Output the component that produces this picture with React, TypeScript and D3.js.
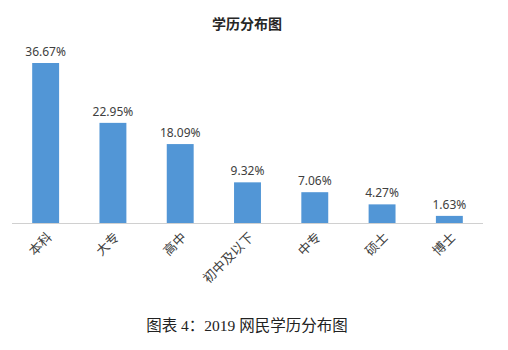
import React from "react";
import * as d3 from "d3";

const categories = ["本科", "大专", "高中", "初中及以下", "中专", "硕士", "博士"];
const values = [36.67, 22.95, 18.09, 9.32, 7.06, 4.27, 1.63];
const title = "学历分布图";
const caption = "图表 4：2019 网民学历分布图";

export default function App() {
  const W = 508, H = 350;
  const left = 12, right = 483, baseline = 223;
  const x = d3.scaleBand<string>().domain(categories).range([left, right]).paddingInner(0.6).paddingOuter(0.3);
  const y = d3.scaleLinear().domain([0, 36.67]).range([baseline, 63]);
  const sans = "'Noto Sans', 'Noto Sans CJK SC', sans-serif";
  const cjk = "'Noto Sans CJK SC', sans-serif";
  return (
    <svg width={W} height={H} style={{ position: "absolute", left: 0, top: 0, background: "#fff" }}>
      <text x={247} y={29} textAnchor="middle" fontFamily={cjk} fontWeight="bold" fontSize={14} fill="#262626">{title}</text>
      {categories.map((c, i) => (
        <g key={c}>
          <rect x={x(c)!} y={y(values[i])} width={x.bandwidth()} height={baseline - y(values[i])} fill="#5296d6" />
          <text x={x(c)! + x.bandwidth() / 2} y={y(values[i]) - 7} textAnchor="middle" fontFamily={sans} fontSize={12} fill="#404040">{values[i].toFixed(2)}%</text>
          <text transform={`translate(${x(c)! + x.bandwidth() / 2 + 7},${baseline + 15}) rotate(-45)`} textAnchor="end" fontFamily={cjk} fontSize={13} fill="#404040">{c}</text>
        </g>
      ))}
      <line x1={left} x2={right} y1={baseline + 0.5} y2={baseline + 0.5} stroke="#d0d0d0" strokeWidth={1} />
      <text x={247} y={331} textAnchor="middle" fontFamily={"'Liberation Serif', 'Noto Sans CJK SC', serif"} fontSize={15.5} fill="#222">{caption}</text>
    </svg>
  );
}
